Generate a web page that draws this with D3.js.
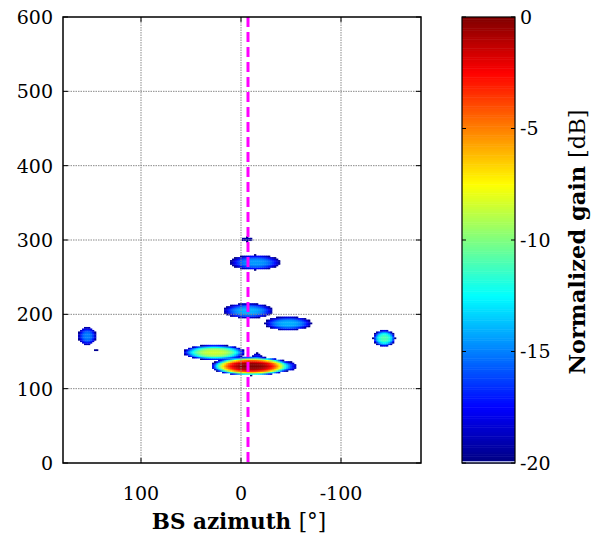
<!DOCTYPE html>
<html>
<head>
<meta charset="utf-8">
<script src="https://cdn.jsdelivr.net/npm/d3@7"></script>
<style>
  html, body { margin: 0; padding: 0; background: #fff; }
  svg { display: block; }
</style>
</head>
<body>
<script>
// ---------------- data ----------------
// multipath clusters (azimuth [deg], delay, peak normalized gain [dB], extent to -20 dB)
const clusterName   = ["LOS", "C150", "C205", "C190", "C270", "C300", "Left", "Right", "dotL", "bumpTop", "bumpRight"];
const clusterAz     = [-10,   27,     -7,     -47,    -14,    -6,     154,    -143,    145,    -16,       -50];
const clusterDelay  = [130.5, 149,    205,    188,    270,    301,    171,    168,     152,    145,       130];
const clusterPeak   = [0,     -8.5,   -14,    -14,    -14.5,  -19,    -15,    -11,     -19.5,  -18,       -18.5];
const clusterAzExt  = [40,    31,     25,     23.5,   25,     6,      9,      11,      1.5,    4,         5];
const clusterDlExt  = [12.5,  10,     10,     9,      10,     3,      12,     11,      1.5,    3,         5];

const losAzimuth = -7;          // magenta dashed reference line
const xTicks = [100, 0, -100];
const xTickLabels = ["100", "0", "-100"];
const yTicks = [0, 100, 200, 300, 400, 500, 600];
const yTickLabels = ["0", "100", "200", "300", "400", "500", "600"];
const cbTicks = [0, -5, -10, -15, -20];
const cbTickLabels = ["0", "-5", "-10", "-15", "-20"];
const gainFloor = -20;
const azDomain = [178, -180];
const delayDomain = [0, 600];
const profileExp = 3;

// ---------------- setup ----------------
const W = 608, H = 533;
const plot = {l: 63, r: 421, t: 17, b: 463};
const cb = {l: 462, r: 515, t: 17, b: 463};
const serif = "'DejaVu Serif', serif";

const svg = d3.select("body").append("svg").attr("width", W).attr("height", H);
svg.append("rect").attr("width", W).attr("height", H).attr("fill", "#fff");

const x = d3.scaleLinear().domain(azDomain).range([plot.l, plot.r]);
const y = d3.scaleLinear().domain(delayDomain).range([plot.b, plot.t]);
const cbY = d3.scaleLinear().domain([gainFloor, 0]).range([cb.b, cb.t]);

function jet(t) {
  const cl = v => Math.max(0, Math.min(1, v));
  const r = cl(1.5 - Math.abs(4 * t - 3));
  const g = cl(1.5 - Math.abs(4 * t - 2));
  const b = cl(1.5 - Math.abs(4 * t - 1));
  return d3.rgb(r * 255, g * 255, b * 255).formatHex();
}
const colorOf = d3.scaleLinear().domain([gainFloor, 0]).range([0, 1]).clamp(true);
const color = g => jet(colorOf(g));

// gain field: sum of clusters in linear power
function gainAt(az, dl) {
  let p = 0;
  for (let i = 0; i < clusterAz.length; i++) {
    const da = (az - clusterAz[i]) / clusterAzExt[i];
    const dd = (dl - clusterDelay[i]) / clusterDlExt[i];
    const r = Math.sqrt(da * da + dd * dd);
    const k = (clusterPeak[i] - gainFloor) * Math.pow(r, profileExp); // dB drop
    p += Math.pow(10, (clusterPeak[i] - k) / 10);
  }
  return 10 * Math.log10(p);
}

// cells
const stepAz = 2, stepDl = 2;
const cells = [];
for (let a = -180; a <= 180; a += stepAz) {
  for (let d = 0; d <= 600; d += stepDl) {
    const g = gainAt(a, d);
    if (g >= gainFloor) cells.push({a, d, g});
  }
}

svg.append("clipPath").attr("id", "clip")
  .append("rect").attr("x", plot.l).attr("y", plot.t)
  .attr("width", plot.r - plot.l).attr("height", plot.b - plot.t);

const gPlot = svg.append("g").attr("clip-path", "url(#clip)");
gPlot.selectAll("rect.cell").data(cells).join("rect")
  .attr("class", "cell")
  .attr("x", d => x(d.a + stepAz / 2))
  .attr("y", d => y(d.d + stepDl / 2))
  .attr("width", d => x(d.a - stepAz / 2) - x(d.a + stepAz / 2) + 0.3)
  .attr("height", d => y(d.d - stepDl / 2) - y(d.d + stepDl / 2) + 0.3)
  .attr("fill", d => color(d.g));

// grid
gPlot.selectAll("line.gx").data(xTicks).join("line")
  .attr("x1", d => x(d)).attr("x2", d => x(d))
  .attr("y1", plot.t).attr("y2", plot.b)
  .attr("stroke", "#8a8a8a").attr("stroke-width", 1).attr("stroke-dasharray", "1.5,1");
gPlot.selectAll("line.gy").data(yTicks.filter(v => v > 0 && v < 600)).join("line")
  .attr("x1", plot.l).attr("x2", plot.r)
  .attr("y1", d => y(d)).attr("y2", d => y(d))
  .attr("stroke", "#8a8a8a").attr("stroke-width", 1).attr("stroke-dasharray", "1.5,1");

// LOS magenta dashed
gPlot.append("line")
  .attr("x1", x(losAzimuth)).attr("x2", x(losAzimuth))
  .attr("y1", plot.t).attr("y2", plot.b)
  .attr("stroke", "#ff00ff").attr("stroke-width", 3).attr("stroke-dasharray", "10,5");

// axes box
svg.append("rect").attr("x", plot.l).attr("y", plot.t)
  .attr("width", plot.r - plot.l).attr("height", plot.b - plot.t)
  .attr("fill", "none").attr("stroke", "#000").attr("stroke-width", 1.5);

// ticks
const tl = 5;
yTicks.forEach(v => {
  svg.append("line").attr("x1", plot.l).attr("x2", plot.l + tl).attr("y1", y(v)).attr("y2", y(v)).attr("stroke", "#000");
  svg.append("line").attr("x1", plot.r).attr("x2", plot.r - tl).attr("y1", y(v)).attr("y2", y(v)).attr("stroke", "#000");
});
xTicks.forEach(v => {
  svg.append("line").attr("x1", x(v)).attr("x2", x(v)).attr("y1", plot.b).attr("y2", plot.b - tl).attr("stroke", "#000");
  svg.append("line").attr("x1", x(v)).attr("x2", x(v)).attr("y1", plot.t).attr("y2", plot.t + tl).attr("stroke", "#000");
});

// tick labels
svg.selectAll("text.yl").data(yTicks).join("text")
  .attr("x", 53).attr("y", d => y(d)).attr("dy", "0.36em")
  .attr("text-anchor", "end").attr("font-family", serif).attr("font-size", 19)
  .text((d, i) => yTickLabels[i]);
svg.selectAll("text.xl").data(xTicks).join("text")
  .attr("x", d => x(d)).attr("y", 500)
  .attr("text-anchor", "middle").attr("font-family", serif).attr("font-size", 19)
  .text((d, i) => xTickLabels[i]);

// x axis label
const xl = svg.append("text").attr("x", 239).attr("y", 529)
  .attr("text-anchor", "middle").attr("font-family", serif).attr("font-size", 21.5);
xl.append("tspan").attr("font-weight", "bold").text("BS azimuth ");
xl.append("tspan").text("[°]");

// ---------------- colorbar ----------------
const cbSteps = d3.range(gainFloor, 0, 0.1);
svg.selectAll("rect.cb").data(cbSteps).join("rect")
  .attr("x", cb.l).attr("width", cb.r - cb.l)
  .attr("y", d => cbY(d + 0.1)).attr("height", d => cbY(d) - cbY(d + 0.1) + 0.5)
  .attr("fill", d => color(d + 0.05));
svg.append("rect").attr("x", cb.l).attr("y", cb.b - 2).attr("width", cb.r - cb.l).attr("height", 2)
  .attr("fill", "#a9aee6");
svg.append("rect").attr("x", cb.l).attr("y", cb.t).attr("width", cb.r - cb.l).attr("height", cb.b - cb.t)
  .attr("fill", "none").attr("stroke", "#000").attr("stroke-width", 1.2);
cbTicks.forEach(v => {
  svg.append("line").attr("x1", cb.l).attr("x2", cb.l + 4).attr("y1", cbY(v)).attr("y2", cbY(v)).attr("stroke", "#000");
  svg.append("line").attr("x1", cb.r).attr("x2", cb.r - 4).attr("y1", cbY(v)).attr("y2", cbY(v)).attr("stroke", "#000");
});
svg.selectAll("text.cbl").data(cbTicks).join("text")
  .attr("x", 520).attr("y", d => cbY(d)).attr("dy", "0.36em")
  .attr("font-family", serif).attr("font-size", 19)
  .text((d, i) => cbTickLabels[i]);

const cl = svg.append("text")
  .attr("transform", "translate(585,242) rotate(-90)")
  .attr("text-anchor", "middle").attr("font-family", serif).attr("font-size", 22.5);
cl.append("tspan").attr("font-weight", "bold").text("Normalized gain ");
cl.append("tspan").text("[dB]");
</script>
</body>
</html>
